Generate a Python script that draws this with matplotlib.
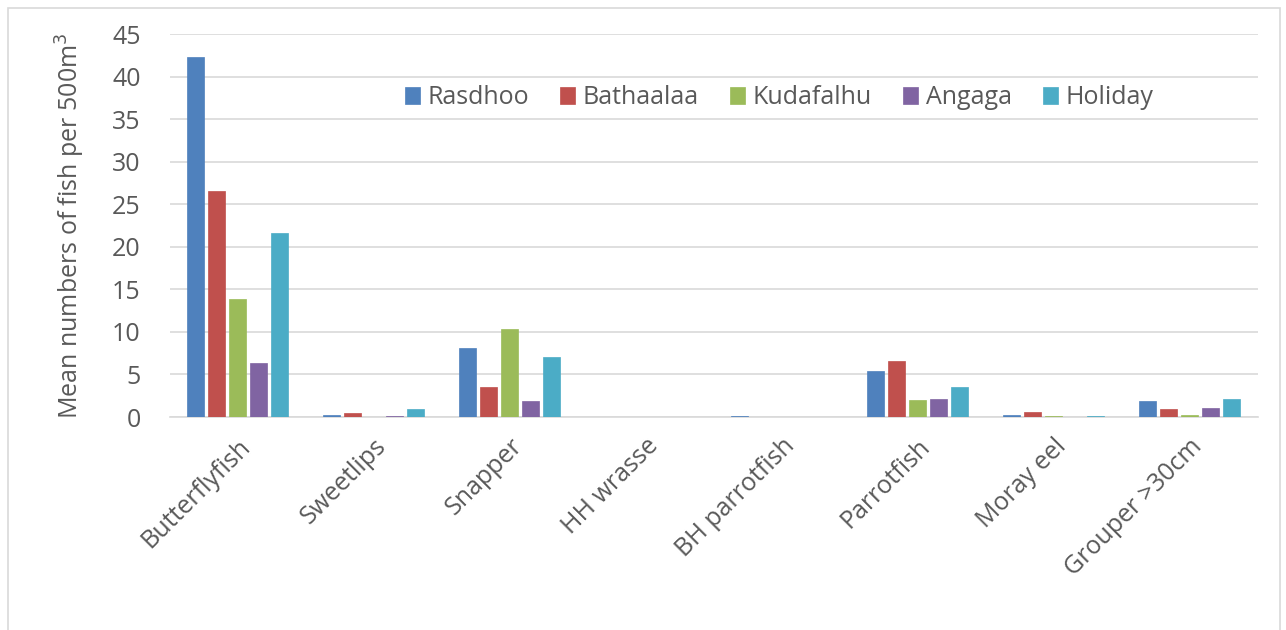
import matplotlib.pyplot as plt
import numpy as np
from matplotlib.patches import Rectangle

categories = ['Butterflyfish', 'Sweetlips', 'Snapper', 'HH wrasse',
              'BH parrotfish', 'Parrotfish', 'Moray eel', 'Grouper >30cm']
sites = ['Rasdhoo', 'Bathaalaa', 'Kudafalhu', 'Angaga', 'Holiday']

rasdhoo = [42.3, 0.3, 8.15, 0, 0.15, 5.45, 0.3, 1.85]
bathaalaa = [26.6, 0.45, 3.5, 0, 0, 6.6, 0.6, 1.0]
kudafalhu = [13.9, 0, 10.35, 0, 0, 2.0, 0.15, 0.3]
angaga = [6.4, 0.15, 1.85, 0, 0, 2.1, 0, 1.1]
holiday = [21.6, 1.0, 7.0, 0, 0, 3.5, 0.15, 2.1]

colors = ['#4F81BD', '#C0504D', '#9BBB59', '#8064A2', '#4BACC6']

plt.rcParams['font.family'] = ['Open Sans', 'DejaVu Sans']

fig = plt.figure(figsize=(12.86, 6.30), dpi=100)
ax = fig.add_axes([0.132, 0.338, 0.846, 0.608])

# rahmen um das ganze diagramm
fig.patches.append(Rectangle((8 / 1286, -0.01), 1272 / 1286, 1 - 8 / 630 + 0.01,
                             transform=fig.transFigure, fill=False,
                             edgecolor='#D9D9D9', linewidth=1.2))

x = np.arange(len(categories))
step = 0.155
series = [rasdhoo, bathaalaa, kudafalhu, angaga, holiday]
for i, (vals, name) in enumerate(zip(series, sites)):
    ax.bar(x + (i - 2) * step, vals, width=0.125, color=colors[i],
           edgecolor=colors[i], linewidth=0.5, label=name, zorder=3)

ax.set_xlim(-0.5, len(categories) - 0.5)
ax.set_ylim(0, 45)
ax.set_yticks(range(0, 46, 5))
ax.yaxis.grid(True, color='#D9D9D9', linewidth=1.2, zorder=0)
ax.set_axisbelow(True)

for s in ['top', 'right', 'left']:
    ax.spines[s].set_visible(False)
ax.spines['bottom'].set_color('#D9D9D9')
ax.spines['bottom'].set_linewidth(1.2)

fs = 18
ax.tick_params(axis='both', length=0, labelsize=fs, colors='#595959')
ax.tick_params(axis='y', pad=21)
ax.set_xticks(x)
ax.set_xticklabels(categories, rotation=45, ha='right', rotation_mode='anchor')
ax.tick_params(axis='x', pad=12)

ax.set_ylabel('Mean numbers of fish per 500m$^3$', fontsize=fs, color='#595959', labelpad=18)

ax.legend(loc='center', bbox_to_anchor=(0.56, 0.833), ncol=5, frameon=False,
          fontsize=fs, handlelength=0.6, handleheight=0.7, handletextpad=0.3,
          columnspacing=1.25, labelcolor='#595959')

fig.savefig('out.png', dpi=100)
